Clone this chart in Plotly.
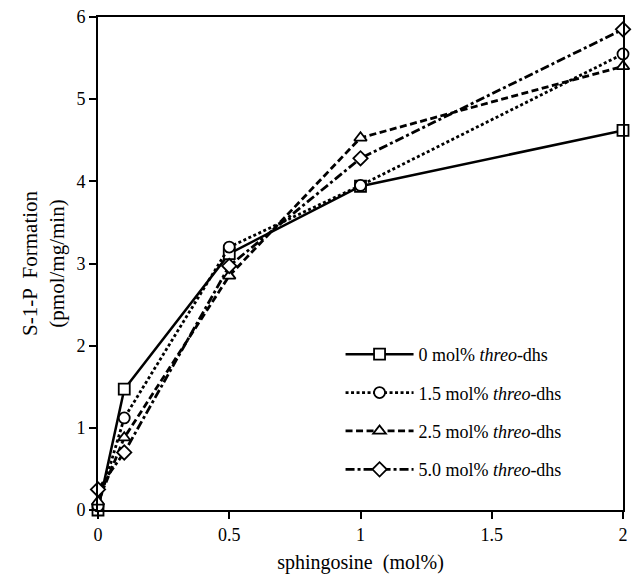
import plotly.graph_objects as go

# sphingosine concentration (mol%)
sphingosine = [0, 0.1, 0.5, 1, 2]

# S-1-P formation (pmol/mg/min) per threo-dhs level
threo_0 = [0.0, 1.47, 3.12, 3.94, 4.62]
threo_15 = [0.05, 1.12, 3.20, 3.95, 5.55]
threo_25 = [0.10, 0.88, 2.85, 4.53, 5.40]
threo_50 = [0.25, 0.70, 2.97, 4.28, 5.85]

series_names = [
    "0 mol% <i>threo</i>-dhs",
    "1.5 mol% <i>threo</i>-dhs",
    "2.5 mol% <i>threo</i>-dhs",
    "5.0 mol% <i>threo</i>-dhs",
]

x_ticks = [0, 0.5, 1, 1.5, 2]
x_tick_labels = ["0", "0.5", "1", "1.5", "2"]
y_ticks = [0, 1, 2, 3, 4, 5, 6]

font = "Liberation Serif, Times New Roman, serif"

styles = [
    dict(dash="solid", symbol="square", width=2.5),
    dict(dash="3px,2.5px", symbol="circle", width=2.8),
    dict(dash="7px,3.5px", symbol="triangle-up", width=2.8),
    dict(dash="9px,3px,3px,3px", symbol="diamond", width=2.8),
]

fig = go.Figure()

for i, (name, ys, st) in enumerate(zip(series_names, [threo_0, threo_15, threo_25, threo_50], styles)):
    fig.add_trace(go.Scatter(
        x=sphingosine,
        y=ys,
        name=name,
        legendgroup="g%d" % i,  # separate groups so tracegroupgap spaces the entries
        mode="lines+markers",
        line=dict(color="black", width=st["width"], dash=st["dash"]),
        marker=dict(symbol=st["symbol"], size=11, color="white",
                    line=dict(color="black", width=1.8)),
        cliponaxis=False,
    ))

fig.update_layout(
    width=633,
    height=581,
    margin=dict(l=98, r=5, t=17, b=71),
    plot_bgcolor="white",
    paper_bgcolor="white",
    font=dict(family=font, size=18, color="black"),
    showlegend=True,
    legend=dict(
        x=0.462, y=0.353, xanchor="left", yanchor="top",
        bgcolor="rgba(0,0,0,0)",
        itemwidth=68,
        font=dict(family=font, size=18),
        tracegroupgap=12,
    ),
)

fig.update_xaxes(
    range=[0, 2],
    tickvals=x_ticks,
    ticktext=x_tick_labels,
    ticks="outside",
    ticklen=7,
    tickwidth=2,
    tickcolor="black",
    showline=True,
    linecolor="black",
    linewidth=2,
    mirror=True,
    showgrid=False,
    zeroline=False,
    tickfont=dict(family=font, size=18),
    title=dict(text="sphingosine  (mol%)", font=dict(family=font, size=20), standoff=11),
)

fig.update_yaxes(
    range=[0, 6],
    tickvals=y_ticks,
    ticks="outside",
    ticklen=7,
    tickwidth=2,
    tickcolor="black",
    showline=True,
    linecolor="black",
    linewidth=2,
    mirror=True,
    showgrid=False,
    zeroline=False,
    tickfont=dict(family=font, size=18),
    title=dict(text="S-1-P  Formation<br>(pmol/mg/min)", font=dict(family=font, size=21), standoff=6),
)

fig.write_html("out.html", config={"displayModeBar": False},
               post_script="document.body.style.margin='0';")
